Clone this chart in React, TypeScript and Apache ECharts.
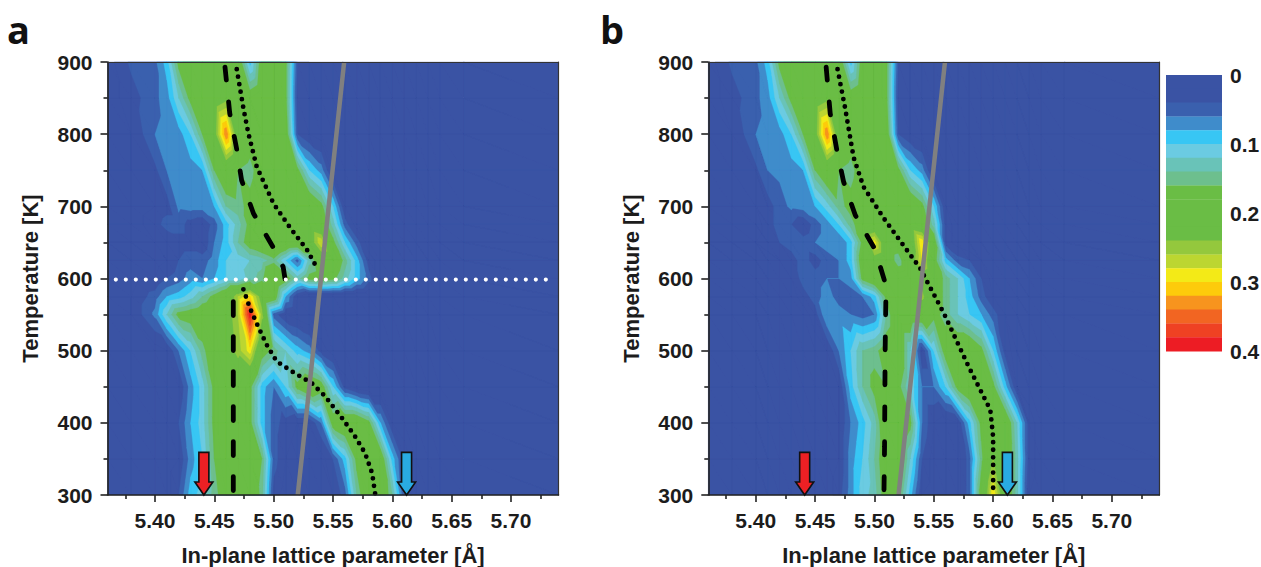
import React, { useEffect, useRef } from "react";
import * as echarts from "echarts";

const lattice = [5.36,5.38,5.40,5.41,5.42,5.43,5.44,5.45,5.46,5.47,5.48,5.49,5.50,5.51,5.52,5.53,5.54,5.55,5.56,5.57,5.58,5.59,5.60,5.61,5.62,5.63,5.64,5.66,5.74];
const temperatures = [900,850,800,750,700,675,650,625,600,575,550,500,450,400,350,300];

// Rows follow temperatures, columns follow lattice; omitted trailing columns read as 0.
const intensityA = [
  [.01,.045,.055,.09,.17,.2,.2,.2,.21,.19,.09,.18,.2,.17,.04,.02,.01],
  [.01,.03,.055,.07,.12,.17,.2,.21,.23,.2,.18,.2,.2,.17,.03,.02,.01],
  [.01,.02,.06,.065,.07,.1,.16,.22,.34,.2,.18,.2,.2,.19,.04,.02,.01],
  [.01,.02,.035,.06,.065,.07,.08,.16,.2,.16,.15,.18,.2,.2,.17,.1,.07,.01],
  [.01,.01,.02,.03,.065,.07,.07,.08,.14,.15,.17,.19,.2,.2,.2,.2,.17,.1,.02],
  [.01,.01,.03,.05,.05,.03,.02,.05,.09,.13,.17,.19,.2,.2,.2,.21,.19,.13,.05,.01],
  [.01,.01,.02,.02,.03,.03,.02,.06,.09,.14,.18,.2,.24,.21,.2,.21,.28,.17,.1,.05,.01],
  [.01,.01,.01,.02,.04,.05,.05,.07,.1,.11,.12,.13,.15,.1,.05,.13,.2,.2,.15,.09,.03,.01],
  [.01,.01,.02,.04,.05,.07,.06,.08,.1,.1,.13,.15,.22,.18,.13,.17,.18,.17,.13,.09,.05,.01],
  [.01,.02,.05,.08,.09,.11,.14,.17,.2,.26,.3,.22,.19,.08,.02],
  [.01,.02,.065,.12,.17,.18,.19,.2,.22,.26,.39,.25,.05,.02,.01],
  [.01,.01,.01,.02,.06,.1,.15,.19,.22,.25,.29,.18,.15,.12,.09,.07,.03,.01],
  [.01,.01,.01,.02,.02,.07,.11,.17,.2,.2,.17,.09,.06,.1,.17,.2,.18,.1,.03,.01],
  [.01,.01,.01,.02,.04,.08,.11,.17,.2,.2,.17,.09,.05,.03,.02,.02,.06,.18,.2,.2,.17,.08,.02,.01],
  [.01,.01,.01,.01,.02,.07,.1,.16,.2,.2,.19,.16,.05,.02,.01,.01,.01,.04,.09,.17,.2,.19,.09,.03,.01],
  [.01,.01,.01,.01,.04,.09,.11,.15,.18,.2,.2,.15,.03,.01,.01,.01,.01,.02,.05,.14,.2,.2,.14,.04,.01],
];
const intensityB = [
  [.01,.045,.055,.09,.17,.2,.2,.2,.21,.19,.09,.18,.2,.17,.04,.02,.01],
  [.01,.03,.055,.07,.12,.17,.2,.21,.23,.2,.18,.2,.2,.17,.03,.02,.01],
  [.01,.02,.06,.065,.07,.1,.16,.22,.34,.2,.18,.2,.2,.19,.04,.02,.01],
  [.01,.02,.035,.06,.065,.07,.08,.16,.2,.16,.15,.18,.2,.2,.17,.1,.07,.01],
  [.01,.01,.02,.03,.05,.065,.07,.08,.11,.15,.17,.19,.2,.2,.2,.2,.17,.1,.02],
  [.01,.01,.01,.03,.05,.04,.02,.05,.07,.1,.15,.18,.2,.2,.2,.21,.19,.13,.03,.01],
  [.01,.01,.02,.03,.04,.05,.05,.06,.07,.06,.09,.17,.29,.2,.19,.2,.3,.19,.03,.01],
  [.01,.01,.01,.01,.02,.03,.05,.03,.05,.06,.09,.19,.22,.2,.14,.21,.28,.18,.09,.05,.04,.02,.01],
  [.01,.01,.01,.01,.01,.02,.05,.05,.06,.06,.07,.17,.2,.2,.2,.21,.22,.19,.15,.12,.08,.04,.01],
  [.01,.01,.01,.01,.01,.01,.03,.05,.07,.05,.05,.06,.09,.17,.21,.22,.25,.19,.15,.12,.09,.05,.02,.01],
  [.01,.01,.01,.01,.01,.01,.01,.03,.08,.07,.06,.05,.06,.14,.2,.2,.2,.17,.15,.12,.1,.08,.05,.02,.01],
  [.01,.01,.01,.01,.01,.01,.01,.01,.02,.06,.1,.14,.15,.18,.2,.12,.02,.1,.18,.2,.2,.17,.1,.03,.01],
  [.01,.01,.01,.01,.01,.01,.01,.01,.01,.02,.09,.14,.17,.16,.17,.12,.06,.06,.1,.17,.2,.2,.17,.09,.02,.01],
  [.01,.01,.01,.01,.01,.01,.01,.01,.01,.02,.06,.09,.13,.2,.2,.17,.06,.02,.01,.02,.09,.17,.22,.2,.12,.03,.01],
  [.01,.01,.01,.01,.01,.01,.01,.01,.01,.02,.07,.1,.14,.19,.2,.12,.04,.01,.01,.01,.05,.15,.24,.2,.13,.03,.01],
  [.01,.01,.01,.01,.01,.01,.01,.01,.01,.03,.07,.11,.13,.18,.17,.09,.02,.01,.01,.01,.05,.18,.3,.2,.13,.02,.01],
];

const levelColors = ["#3a53a4","#3a53a4","#3a60ae","#3f8ccb","#38c6f4","#6bcbe2","#69c3b8","#6dbf8e","#6abd45","#6abd45","#6abd45","#6abd45","#94c83d","#bcd631","#f3ea17","#fdcb0b","#f7941e","#f26522","#ef4123","#ed1c24"];
const levelStep = 0.02;

const grayLine = [[5.5203,300],[5.5594,900]];
const whiteLine = [[5.367,598.5],[5.73,598.5]];
const dashUpperA = [[5.459,893],[5.463,829],[5.469,778],[5.473,736],[5.483,690],[5.50,642],[5.508,616],[5.51,595]];
const dashLowerA = [[5.466,568],[5.466,300]];
const dotUpperA = [[5.4689,890],[5.4745,836],[5.4787,801],[5.4857,755],[5.4998,704],[5.514,670],[5.528,640],[5.5374,612]];
const dotLowerA = [[5.4745,585],[5.48,559],[5.487,533],[5.4942,508],[5.5026,485],[5.5166,470],[5.532,455],[5.5433,437],[5.5588,404],[5.5686,381],[5.577,358],[5.583,330],[5.5855,302]];
const dashB = [[5.4593,893],[5.4627,829],[5.4683,778],[5.474,734],[5.4838,688],[5.5006,640],[5.509,594],[5.5096,570],[5.509,501],[5.5085,367],[5.508,300]];
const dotB = [[5.4689,890],[5.4753,836],[5.478,810],[5.4824,768],[5.4908,727],[5.5076,684],[5.523,649],[5.5386,614],[5.542,603],[5.5584,552],[5.5793,478],[5.5976,418],[5.60,380],[5.60,300]];
const arrowPositions = [5.4412, 5.612];
const arrowColors = ["#ed2024", "#29abe2"];
const arrowTop = 359;

const xMajor = [5.40,5.45,5.50,5.55,5.60,5.65,5.70];
const xMinor = [5.375,5.425,5.475,5.525,5.575,5.625,5.675,5.725];

const textColor = "#1c1c1c";
const tickFont = { fontFamily: "Liberation Sans", fontWeight: "bold" as const, fontSize: 21, color: textColor };
const titleFont = { fontFamily: "Liberation Sans", fontWeight: "bold" as const, fontSize: 22, color: textColor };

function clipAbove(tri: number[][], th: number): number[][] {
  const out: number[][] = [];
  for (let i = 0; i < 3; i++) {
    const a = tri[i];
    const b = tri[(i + 1) % 3];
    const ina = a[2] >= th;
    const inb = b[2] >= th;
    if (ina) out.push(a);
    if (ina !== inb) {
      const t = (th - a[2]) / (b[2] - a[2]);
      out.push([a[0] + (b[0] - a[0]) * t, a[1] + (b[1] - a[1]) * t, th]);
    }
  }
  return out;
}

function contourRenderer(matrix: number[][]) {
  return (_params: any, api: any) => {
    const level = api.value(0);
    const th = level * levelStep - 1e-9;
    const corners = temperatures.map((T, r) =>
      lattice.map((x, c) => {
        const p = api.coord([x, T]);
        return [p[0], p[1], matrix[r][c] ?? 0];
      })
    );
    const parts: string[] = [];
    const add = (tri: number[][]) => {
      const poly = clipAbove(tri, th);
      if (poly.length < 3) return;
      parts.push("M" + poly.map((p) => p[0].toFixed(2) + " " + p[1].toFixed(2)).join("L") + "Z");
    };
    for (let r = 0; r < temperatures.length - 1; r++) {
      for (let c = 0; c < lattice.length - 1; c++) {
        const a = corners[r][c], b = corners[r][c + 1], d = corners[r + 1][c], e = corners[r + 1][c + 1];
        add([a, b, e]);
        add([a, e, d]);
      }
    }
    return {
      type: "path",
      shape: { pathData: parts.join("") },
      style: { fill: levelColors[level], stroke: levelColors[level], lineWidth: 0.3 },
    };
  };
}

function arrowRenderer(_params: any, api: any) {
  const tip = api.coord([api.value(0), 300]);
  const top = api.coord([api.value(0), arrowTop]);
  const x = tip[0], yb = tip[1], yt = top[1];
  const hw = 9, bw = 5, hh = 13;
  return {
    type: "polygon",
    shape: {
      points: [[x - bw, yt], [x + bw, yt], [x + bw, yb - hh], [x + hw, yb - hh], [x, yb], [x - hw, yb - hh], [x - bw, yb - hh]],
    },
    style: { fill: arrowColors[api.value(1)], stroke: "#111", lineWidth: 1.6 },
  };
}

function lineSeries(data: number[][], xi: number, yi: number, color: string, width: number, dash: any, z: number) {
  return {
    type: "line", xAxisIndex: xi, yAxisIndex: yi, data, symbol: "none", silent: true, z,
    lineStyle: { color, width, type: dash, cap: dash === "solid" ? "butt" : "round" },
  };
}

function panelAxes(gridIndex: number) {
  const common = { gridIndex, type: "value" as const, min: 5.36, max: 5.74, splitLine: { show: false }, z: 5 };
  const line = { show: true, lineStyle: { color: "#222", width: 1.6 } };
  const xs = [
    {
      ...common, position: "bottom", axisLine: line,
      axisTick: { show: true, customValues: xMajor, length: 7, lineStyle: { color: "#222", width: 1.6 } },
      axisLabel: { ...tickFont, customValues: xMajor, margin: 15, formatter: (v: number) => v.toFixed(2) },
      name: "In-plane lattice parameter [Å]", nameLocation: "middle", nameGap: 49,
      nameTextStyle: titleFont,
    },
    {
      ...common, position: "bottom", axisLine: { show: false },
      axisTick: { show: true, customValues: xMinor, length: 4, lineStyle: { color: "#222", width: 1.6 } },
      axisLabel: { show: false },
    },
    {
      ...common, position: "top", axisLine: { show: true, lineStyle: { color: "#333", width: 1.2 } },
      axisTick: { show: false }, axisLabel: { show: false },
    },
  ];
  const ycommon = { gridIndex, type: "value" as const, min: 300, max: 900, interval: 100, splitLine: { show: false }, z: 5 };
  const ys = [
    {
      ...ycommon, position: "left", axisLine: line,
      axisTick: { show: true, length: 7, lineStyle: { color: "#222", width: 1.6 } },
      minorTick: { show: true, splitNumber: 2, length: 4, lineStyle: { color: "#222", width: 1.6 } },
      axisLabel: { ...tickFont, margin: 15 },
      name: "Temperature [K]", nameLocation: "middle", nameGap: 66, nameRotate: 90,
      nameTextStyle: titleFont,
    },
    {
      ...ycommon, position: "right", axisLine: { show: true, lineStyle: { color: "#333", width: 1.2 } },
      axisTick: { show: false }, axisLabel: { show: false },
    },
  ];
  return { xs, ys };
}

function panelSeries(matrix: number[][], xi: number, yi: number, overlays: any[]) {
  return [
    {
      type: "custom", xAxisIndex: xi, yAxisIndex: yi, silent: true, z: 2, clip: false,
      renderItem: contourRenderer(matrix),
      data: levelColors.map((_, k) => [k]),
    },
    ...overlays,
    {
      type: "custom", xAxisIndex: xi, yAxisIndex: yi, silent: true, z: 6, clip: false,
      renderItem: arrowRenderer,
      data: arrowPositions.map((x, i) => [x, i]),
    },
  ];
}

function buildOption() {
  const a = panelAxes(0);
  const b = panelAxes(1);
  const overlaysA = [
    lineSeries(dashUpperA, 0, 0, "#000", 4.8, [13, 22], 3),
    lineSeries(dashLowerA, 0, 0, "#000", 4.8, [14, 21], 3),
    lineSeries(dotUpperA, 0, 0, "#000", 4.8, [0, 7.6], 3),
    lineSeries(dotLowerA, 0, 0, "#000", 4.8, [0, 7.6], 3),
    lineSeries(whiteLine, 0, 0, "#fff", 4.2, [0, 10], 3),
    lineSeries(grayLine, 0, 0, "#808080", 4.5, "solid", 4),
  ];
  const overlaysB = [
    lineSeries(dashB, 3, 2, "#000", 4.8, [13, 22], 3),
    lineSeries(dotB, 3, 2, "#000", 4.8, [0, 7.6], 3),
    lineSeries(grayLine, 3, 2, "#808080", 4.5, "solid", 4),
  ];
  return {
    animation: false,
    backgroundColor: "#fff",
    title: [
      { text: "a", left: 2, top: 5, textStyle: { fontFamily: "Open Sans", fontWeight: "bold", fontSize: 38, color: "#111" } },
      { text: "b", left: 595, top: 5, textStyle: { fontFamily: "Open Sans", fontWeight: "bold", fontSize: 38, color: "#111" } },
    ],
    grid: [
      { left: 107.5, top: 62, width: 451, height: 433, outerBoundsMode: "none" },
      { left: 708.3, top: 62, width: 451, height: 433, outerBoundsMode: "none" },
      { left: 1166, top: 75, width: 56, height: 276, outerBoundsMode: "none" },
    ],
    xAxis: [
      ...a.xs, ...b.xs,
      { gridIndex: 2, type: "value", min: 0, max: 1, show: false },
    ],
    yAxis: [
      ...a.ys, ...b.ys,
      {
        gridIndex: 2, type: "value", inverse: true, min: 0, max: 0.4, interval: 0.1, position: "right",
        axisLine: { show: false }, axisTick: { show: false }, splitLine: { show: false },
        axisLabel: { ...tickFont, margin: 8 },
      },
    ],
    series: [
      ...panelSeries(intensityA, 0, 0, overlaysA),
      ...panelSeries(intensityB, 3, 2, overlaysB),
      {
        type: "custom", xAxisIndex: 6, yAxisIndex: 4, silent: true, z: 2,
        renderItem: (_p: any, api: any) => {
          const k = api.value(0);
          const p0 = api.coord([0, k * levelStep]);
          const p1 = api.coord([1, (k + 1) * levelStep]);
          return {
            type: "rect",
            shape: { x: p0[0], y: p0[1], width: p1[0] - p0[0], height: p1[1] - p0[1] + 0.4 },
            style: { fill: levelColors[k] },
          };
        },
        data: levelColors.map((_, k) => [k]),
      },
    ],
  };
}

export default function App() {
  const ref = useRef<HTMLDivElement>(null);
  useEffect(() => {
    document.body.style.margin = "0";
    const chart = echarts.init(ref.current!, undefined, { renderer: "svg" });
    chart.setOption(buildOption() as any);
    return () => chart.dispose();
  }, []);
  return <div ref={ref} style={{ width: 1261, height: 567 }} />;
}
